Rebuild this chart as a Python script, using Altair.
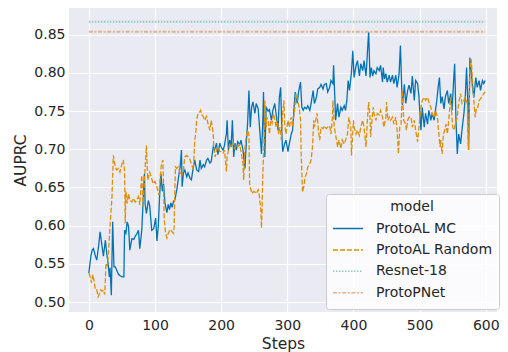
import altair as alt
import pandas as pd

mc_steps = [0,3,5,7,10,12,15,17,20,22,25,27,29,31,32,34,36,38,40,45,50,53,54,56,58,60,62,65,68,70,73,75,77,80,84,85,87,90,92,95,98,101,103,105,107,109,111,113,115,118,120,122,124,126,128,130,133,135,138,140,141,143,145,148,150,153,155,158,160,163,166,168,170,173,175,178,180,183,185,188,190,193,195,198,200,203,205,208,209,211,213,215,217,219,221,223,225,228,230,233,236,238,240,242,244,246,248,251,253,256,258,261,263,264,266,268,271,273,276,278,281,283,286,288,290,292,293,296,298,301,303,306,308,311,312,315,317,320,322,324,326,329,331,334,336,339,341,344,346,349,351,354,356,359,361,364,366,369,370,372,373,376,378,381,383,386,388,390,392,394,397,399,401,404,406,409,411,414,416,419,421,423,425,427,429,431,434,436,439,441,444,445,447,449,451,454,456,459,461,464,466,469,471,473,474,477,479,482,484,487,489,492,494,497,499,502,504,507,509,512,514,517,519,522,524,526,528,530,532,534,537,539,542,544,547,549,552,553,555,557,559,562,564,567,569,571,573,574,576,578,580,582,585,587,590,592,595,597,599]
mc_values = [0.538,0.560,0.568,0.570,0.560,0.555,0.575,0.592,0.573,0.560,0.581,0.564,0.551,0.533,0.545,0.509,0.605,0.546,0.546,0.536,0.533,0.533,0.594,0.590,0.605,0.599,0.568,0.583,0.582,0.586,0.590,0.594,0.570,0.594,0.668,0.629,0.616,0.633,0.626,0.594,0.596,0.610,0.580,0.600,0.640,0.668,0.645,0.655,0.630,0.617,0.628,0.621,0.630,0.624,0.632,0.634,0.647,0.660,0.677,0.699,0.651,0.669,0.673,0.664,0.669,0.662,0.660,0.677,0.686,0.673,0.671,0.686,0.675,0.680,0.677,0.686,0.688,0.682,0.684,0.703,0.699,0.708,0.693,0.708,0.703,0.699,0.705,0.721,0.738,0.699,0.712,0.703,0.738,0.690,0.708,0.699,0.710,0.706,0.712,0.699,0.675,0.708,0.734,0.777,0.729,0.755,0.762,0.747,0.760,0.753,0.729,0.694,0.738,0.775,0.690,0.755,0.750,0.752,0.738,0.750,0.760,0.747,0.725,0.768,0.781,0.716,0.697,0.707,0.712,0.697,0.707,0.720,0.725,0.764,0.775,0.760,0.775,0.788,0.755,0.751,0.755,0.753,0.757,0.751,0.760,0.777,0.760,0.768,0.779,0.781,0.785,0.779,0.785,0.786,0.775,0.781,0.790,0.786,0.810,0.764,0.738,0.760,0.742,0.755,0.751,0.757,0.751,0.764,0.790,0.777,0.801,0.829,0.794,0.810,0.816,0.796,0.812,0.803,0.816,0.796,0.825,0.854,0.794,0.807,0.796,0.803,0.799,0.807,0.803,0.810,0.788,0.807,0.792,0.799,0.788,0.797,0.788,0.797,0.786,0.797,0.781,0.799,0.836,0.780,0.758,0.785,0.760,0.777,0.784,0.773,0.796,0.764,0.790,0.786,0.769,0.725,0.755,0.729,0.747,0.733,0.751,0.738,0.747,0.738,0.751,0.764,0.781,0.794,0.760,0.769,0.753,0.769,0.777,0.760,0.773,0.751,0.799,0.812,0.738,0.694,0.720,0.707,0.725,0.747,0.768,0.807,0.760,0.699,0.820,0.803,0.781,0.768,0.794,0.781,0.790,0.777,0.790,0.786,0.790]

rnd_steps = [0,2,4,6,8,10,12,14,16,18,20,22,24,26,28,30,32,35,37,40,42,45,47,50,52,54,55,56,58,60,62,65,67,70,72,75,77,80,82,85,87,89,92,95,97,100,103,106,108,110,112,113,114,116,118,120,123,125,128,129,130,131,133,135,138,140,143,145,148,150,153,155,158,160,162,163,165,168,169,171,173,175,178,180,183,185,188,189,191,193,195,198,200,203,205,208,209,211,213,215,218,220,223,225,228,230,233,234,236,238,240,242,243,245,247,249,251,253,256,258,260,261,262,263,265,266,268,269,271,273,275,277,279,281,283,285,287,289,291,293,295,296,298,301,303,306,308,311,313,316,318,320,321,323,325,327,329,331,334,336,338,340,341,343,345,347,349,351,354,356,359,361,364,366,368,369,371,374,376,378,381,383,386,388,391,393,396,397,400,401,404,406,409,411,414,416,419,421,423,425,426,428,430,431,434,436,439,441,444,446,449,450,452,454,456,459,461,464,466,468,470,472,474,476,479,480,482,484,487,489,492,494,497,499,502,504,507,509,512,514,517,519,522,524,527,529,531,532,534,536,538,540,542,544,547,548,550,552,554,557,559,562,564,567,569,572,574,576,578,580,582,584,586,588,590,592,595,597,599]
rnd_values = [0.538,0.533,0.525,0.536,0.527,0.516,0.516,0.507,0.511,0.516,0.514,0.516,0.510,0.551,0.547,0.570,0.599,0.638,0.692,0.677,0.673,0.675,0.670,0.681,0.686,0.673,0.603,0.645,0.629,0.642,0.633,0.631,0.636,0.631,0.633,0.638,0.627,0.666,0.625,0.675,0.705,0.660,0.670,0.662,0.655,0.658,0.650,0.640,0.665,0.682,0.686,0.647,0.608,0.590,0.584,0.590,0.595,0.593,0.590,0.599,0.647,0.677,0.675,0.677,0.669,0.664,0.673,0.690,0.692,0.690,0.686,0.681,0.673,0.710,0.725,0.738,0.747,0.749,0.751,0.745,0.743,0.738,0.743,0.734,0.725,0.738,0.721,0.699,0.690,0.699,0.703,0.697,0.697,0.695,0.699,0.671,0.690,0.699,0.706,0.703,0.708,0.701,0.706,0.703,0.706,0.697,0.682,0.660,0.703,0.717,0.725,0.720,0.655,0.647,0.642,0.645,0.644,0.642,0.647,0.638,0.620,0.597,0.625,0.668,0.712,0.764,0.729,0.742,0.738,0.720,0.738,0.734,0.747,0.740,0.729,0.742,0.720,0.729,0.712,0.747,0.764,0.733,0.720,0.738,0.729,0.742,0.729,0.751,0.773,0.762,0.755,0.738,0.694,0.644,0.651,0.664,0.668,0.677,0.681,0.686,0.703,0.738,0.729,0.738,0.747,0.725,0.712,0.729,0.727,0.731,0.727,0.729,0.731,0.720,0.738,0.764,0.729,0.714,0.703,0.712,0.701,0.712,0.707,0.712,0.720,0.742,0.729,0.692,0.738,0.729,0.720,0.725,0.718,0.729,0.738,0.729,0.703,0.738,0.762,0.742,0.716,0.738,0.755,0.747,0.738,0.747,0.745,0.751,0.742,0.729,0.742,0.762,0.738,0.742,0.738,0.742,0.733,0.742,0.725,0.694,0.729,0.733,0.777,0.738,0.733,0.725,0.738,0.742,0.742,0.729,0.738,0.725,0.710,0.729,0.755,0.764,0.768,0.764,0.768,0.762,0.755,0.747,0.742,0.751,0.742,0.720,0.703,0.712,0.694,0.720,0.725,0.733,0.720,0.738,0.768,0.755,0.729,0.725,0.733,0.742,0.760,0.773,0.760,0.764,0.768,0.760,0.699,0.803,0.818,0.790,0.764,0.742,0.755,0.755,0.764,0.766,0.770,0.773,0.775]

resnet_value = 0.867
protopnet_value = 0.854

models = ["ProtoAL MC", "ProtoAL Random", "Resnet-18", "ProtoPNet"]
colors = ["#0173B2", "#DE8F05", "#8DCCBF", "#E2B291"]
dashes = [[1, 0], [5, 2], [1.5, 1.5], [4, 1.6, 2, 1.6]]

const_steps = [mc_steps[0], mc_steps[-1]]
frames = [
    pd.DataFrame({"Steps": mc_steps, "AUPRC": mc_values, "model": models[0], "order": 0}),
    pd.DataFrame({"Steps": rnd_steps, "AUPRC": rnd_values, "model": models[1], "order": 1}),
    pd.DataFrame({"Steps": const_steps, "AUPRC": [resnet_value] * 2, "model": models[2], "order": 2}),
    pd.DataFrame({"Steps": const_steps, "AUPRC": [protopnet_value] * 2, "model": models[3], "order": 3}),
]
df = pd.concat(frames, ignore_index=True)

base = alt.Chart(df).encode(
    x=alt.X("Steps:Q", scale=alt.Scale(domain=[-30, 617], nice=False, zero=False),
            axis=alt.Axis(values=[0, 100, 200, 300, 400, 500, 600], labelPadding=6, titlePadding=4)),
    y=alt.Y("AUPRC:Q", scale=alt.Scale(domain=[0.487, 0.885], nice=False, zero=False),
            axis=alt.Axis(values=[0.50, 0.55, 0.60, 0.65, 0.70, 0.75, 0.80, 0.85], format=".2f",
                          labelPadding=4, titlePadding=5)),
    color=alt.Color("model:N", scale=alt.Scale(domain=models, range=colors),
                    sort=models, title="model",
                    legend=alt.Legend(orient="none", legendX=257, legendY=186)),
    strokeDash=alt.StrokeDash("model:N", scale=alt.Scale(domain=models, range=dashes),
                              sort=models, title="model"),
    detail="model:N",
)

main_lines = base.mark_line(strokeWidth=1.3).transform_filter(alt.datum.order < 2)
ref_lines = base.mark_line(strokeWidth=1.9).transform_filter(alt.datum.order >= 2)

chart = alt.layer(main_lines, ref_lines).properties(
    width=428, height=304,
    autosize=alt.AutoSizeParams(type="none"),
    padding={"left": 61, "top": 0, "right": 3, "bottom": 40},
).configure_view(
    fill="#EAEAF2", stroke=None
).configure_axis(
    domain=False, ticks=False, grid=True, gridColor="#FFFFFF", gridWidth=1.2,
    labelFont="DejaVu Sans", labelFontSize=14, labelColor="#262626",
    titleFont="DejaVu Sans", titleFontSize=15.5, titleColor="#262626", titleFontWeight="normal",
).configure_legend(
    symbolType="stroke", symbolSize=900, symbolStrokeWidth=1.5, clipHeight=19, rowPadding=2.4,
    labelFont="DejaVu Sans", labelFontSize=14, labelColor="#262626", labelOffset=12,
    titleFont="DejaVu Sans", titleFontSize=14, titleColor="#262626", titleFontWeight="normal",
    titleAnchor="middle", titlePadding=5, padding=6,
    fillColor="rgba(255,255,255,0.8)", strokeColor="#CCCCCC", cornerRadius=3,
)

chart.save("out.html", embed_options={"renderer": "svg", "actions": False})
